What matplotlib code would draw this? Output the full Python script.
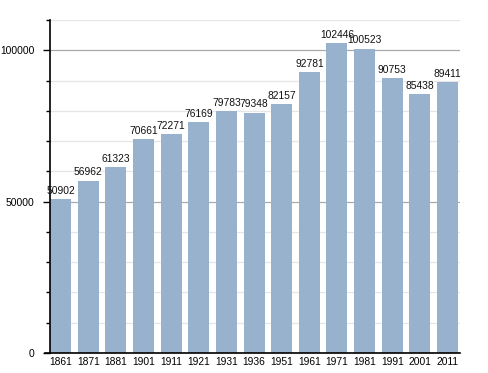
import numpy as np
import matplotlib
matplotlib.use("Agg")
import matplotlib.pyplot as plt
from matplotlib.ticker import MultipleLocator

years = ["1861", "1871", "1881", "1901", "1911", "1921", "1931", "1936",
         "1951", "1961", "1971", "1981", "1991", "2001", "2011"]
population = [50902, 56962, 61323, 70661, 72271, 76169, 79783, 79348,
              82157, 92781, 102446, 100523, 90753, 85438, 89411]

plt.rcParams['font.family'] = ['Liberation Sans', 'DejaVu Sans']

fig = plt.figure(figsize=(4.88, 3.73), dpi=100)
ax = fig.add_axes([50/488, 20/373, 410/488, 333/373])

x = np.arange(len(years))
ax.bar(x, population, width=0.76, color='#98b1cc', zorder=2)

# value labels above each bar
for xi, v in zip(x, population):
    ax.text(xi, v + 1100, str(v), ha='center', va='bottom', fontsize=7.4, color='#111111')

ax.set_xlim(-0.38, 14.45)
ax.set_ylim(0, 110000)
ax.set_xticks(x)
ax.set_xticklabels(years)
ax.yaxis.set_major_locator(MultipleLocator(50000))
ax.yaxis.set_minor_locator(MultipleLocator(10000))

ax.grid(axis='y', which='major', color='#aaaaaa', linewidth=0.9, zorder=1)
ax.grid(axis='y', which='minor', color='#e6e6e6', linewidth=0.9, zorder=1)

for s in ['top', 'right']:
    ax.spines[s].set_visible(False)
ax.spines['left'].set_linewidth(1.2)
ax.spines['bottom'].set_linewidth(1.2)
ax.spines['bottom'].set_bounds(-0.38 - 5/27.64, 14.45)

ax.tick_params(axis='y', which='major', length=5, width=1, pad=6, labelsize=7.4)
ax.tick_params(axis='y', which='minor', length=3, width=1)
ax.tick_params(axis='x', length=0, pad=3, labelsize=7.4)

fig.savefig("out.png", dpi=100)
